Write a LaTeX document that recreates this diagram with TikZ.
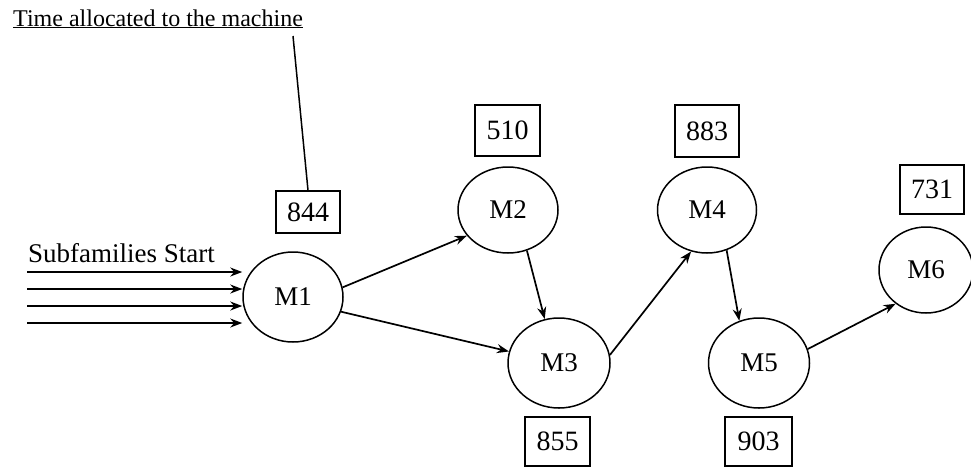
\documentclass[tikz,border=0pt]{standalone}
\usepackage{fontspec}
\setmainfont{Liberation Serif}
\usetikzlibrary{shapes.geometric,arrows.meta}
\begin{document}
\begin{tikzpicture}[x=1pt,y=-1pt,
  mach/.style={ellipse,draw,line width=1.5pt,inner sep=0pt,font=\fontsize{27}{30}\selectfont},
  tbox/.style={draw,line width=1.5pt,inner sep=0pt,font=\fontsize{28}{30}\selectfont},
  arr/.style={line width=1.7pt,-{Stealth[length=12pt,width=9pt]}},
  lbl/.style={inner sep=0pt,font=\fontsize{27}{30}\selectfont}]
\useasboundingbox (0,0) rectangle (971,467);
% title
\node[lbl,anchor=base west,font=\fontsize{24}{27}\selectfont] (title) at (13,26) {\underline{Time allocated to the machine}};
\coordinate (tl) at (293,36);
% machines
\node[mach,minimum width=100pt,minimum height=90pt] (M1) at (293,297) {M1};
\node[mach,minimum width=100pt,minimum height=86pt] (M2) at (508,210) {M2};
\node[mach,minimum width=102pt,minimum height=90pt] (M3) at (559,363) {M3};
\node[mach,minimum width=99pt,minimum height=86pt] (M4) at (707,210) {M4};
\node[mach,minimum width=101pt,minimum height=90pt] (M5) at (759,363) {M5};
\node[mach,minimum width=94pt,minimum height=86pt] (M6) at (926,270) {M6};
% boxes
\node[tbox,minimum width=64pt,minimum height=42pt] (b844) at (308,212) {844};
\node[tbox,minimum width=65pt,minimum height=51pt] (b510) at (507.5,130.5) {510};
\node[tbox,minimum width=64pt,minimum height=52pt] (b883) at (707,131) {883};
\node[tbox,minimum width=65pt,minimum height=49pt] (b855) at (557.5,441.5) {855};
\node[tbox,minimum width=67pt,minimum height=49pt] (b903) at (758.5,441.5) {903};
\node[tbox,minimum width=64pt,minimum height=49pt] (b731) at (932,189.5) {731};
% title leader
\draw[line width=1.5pt] (tl) -- (b844.north);
% subfamilies
\node[lbl,anchor=base west] (sub) at (28,262) {Subfamilies Start};
\coordinate (s1) at (27,272);
\coordinate (s2) at (27,289);
\coordinate (s3) at (27,306);
\coordinate (s4) at (27,323);
\foreach \s in {s1,s2,s3,s4}
  \draw[arr] (\s) -- (\s -| M1.west);
% flows
\draw[arr] (M1.11) -- (M2.212);
\draw[arr] (M1.343) -- (M3.167);
\draw[arr] (M2.295) -- (M3.108);
\draw[arr] (M3.9) -- (M4.249);
\draw[arr] (M4.296) -- (M5.115);
\draw[arr] (M5.16) -- (M6.228);
\end{tikzpicture}
\end{document}
